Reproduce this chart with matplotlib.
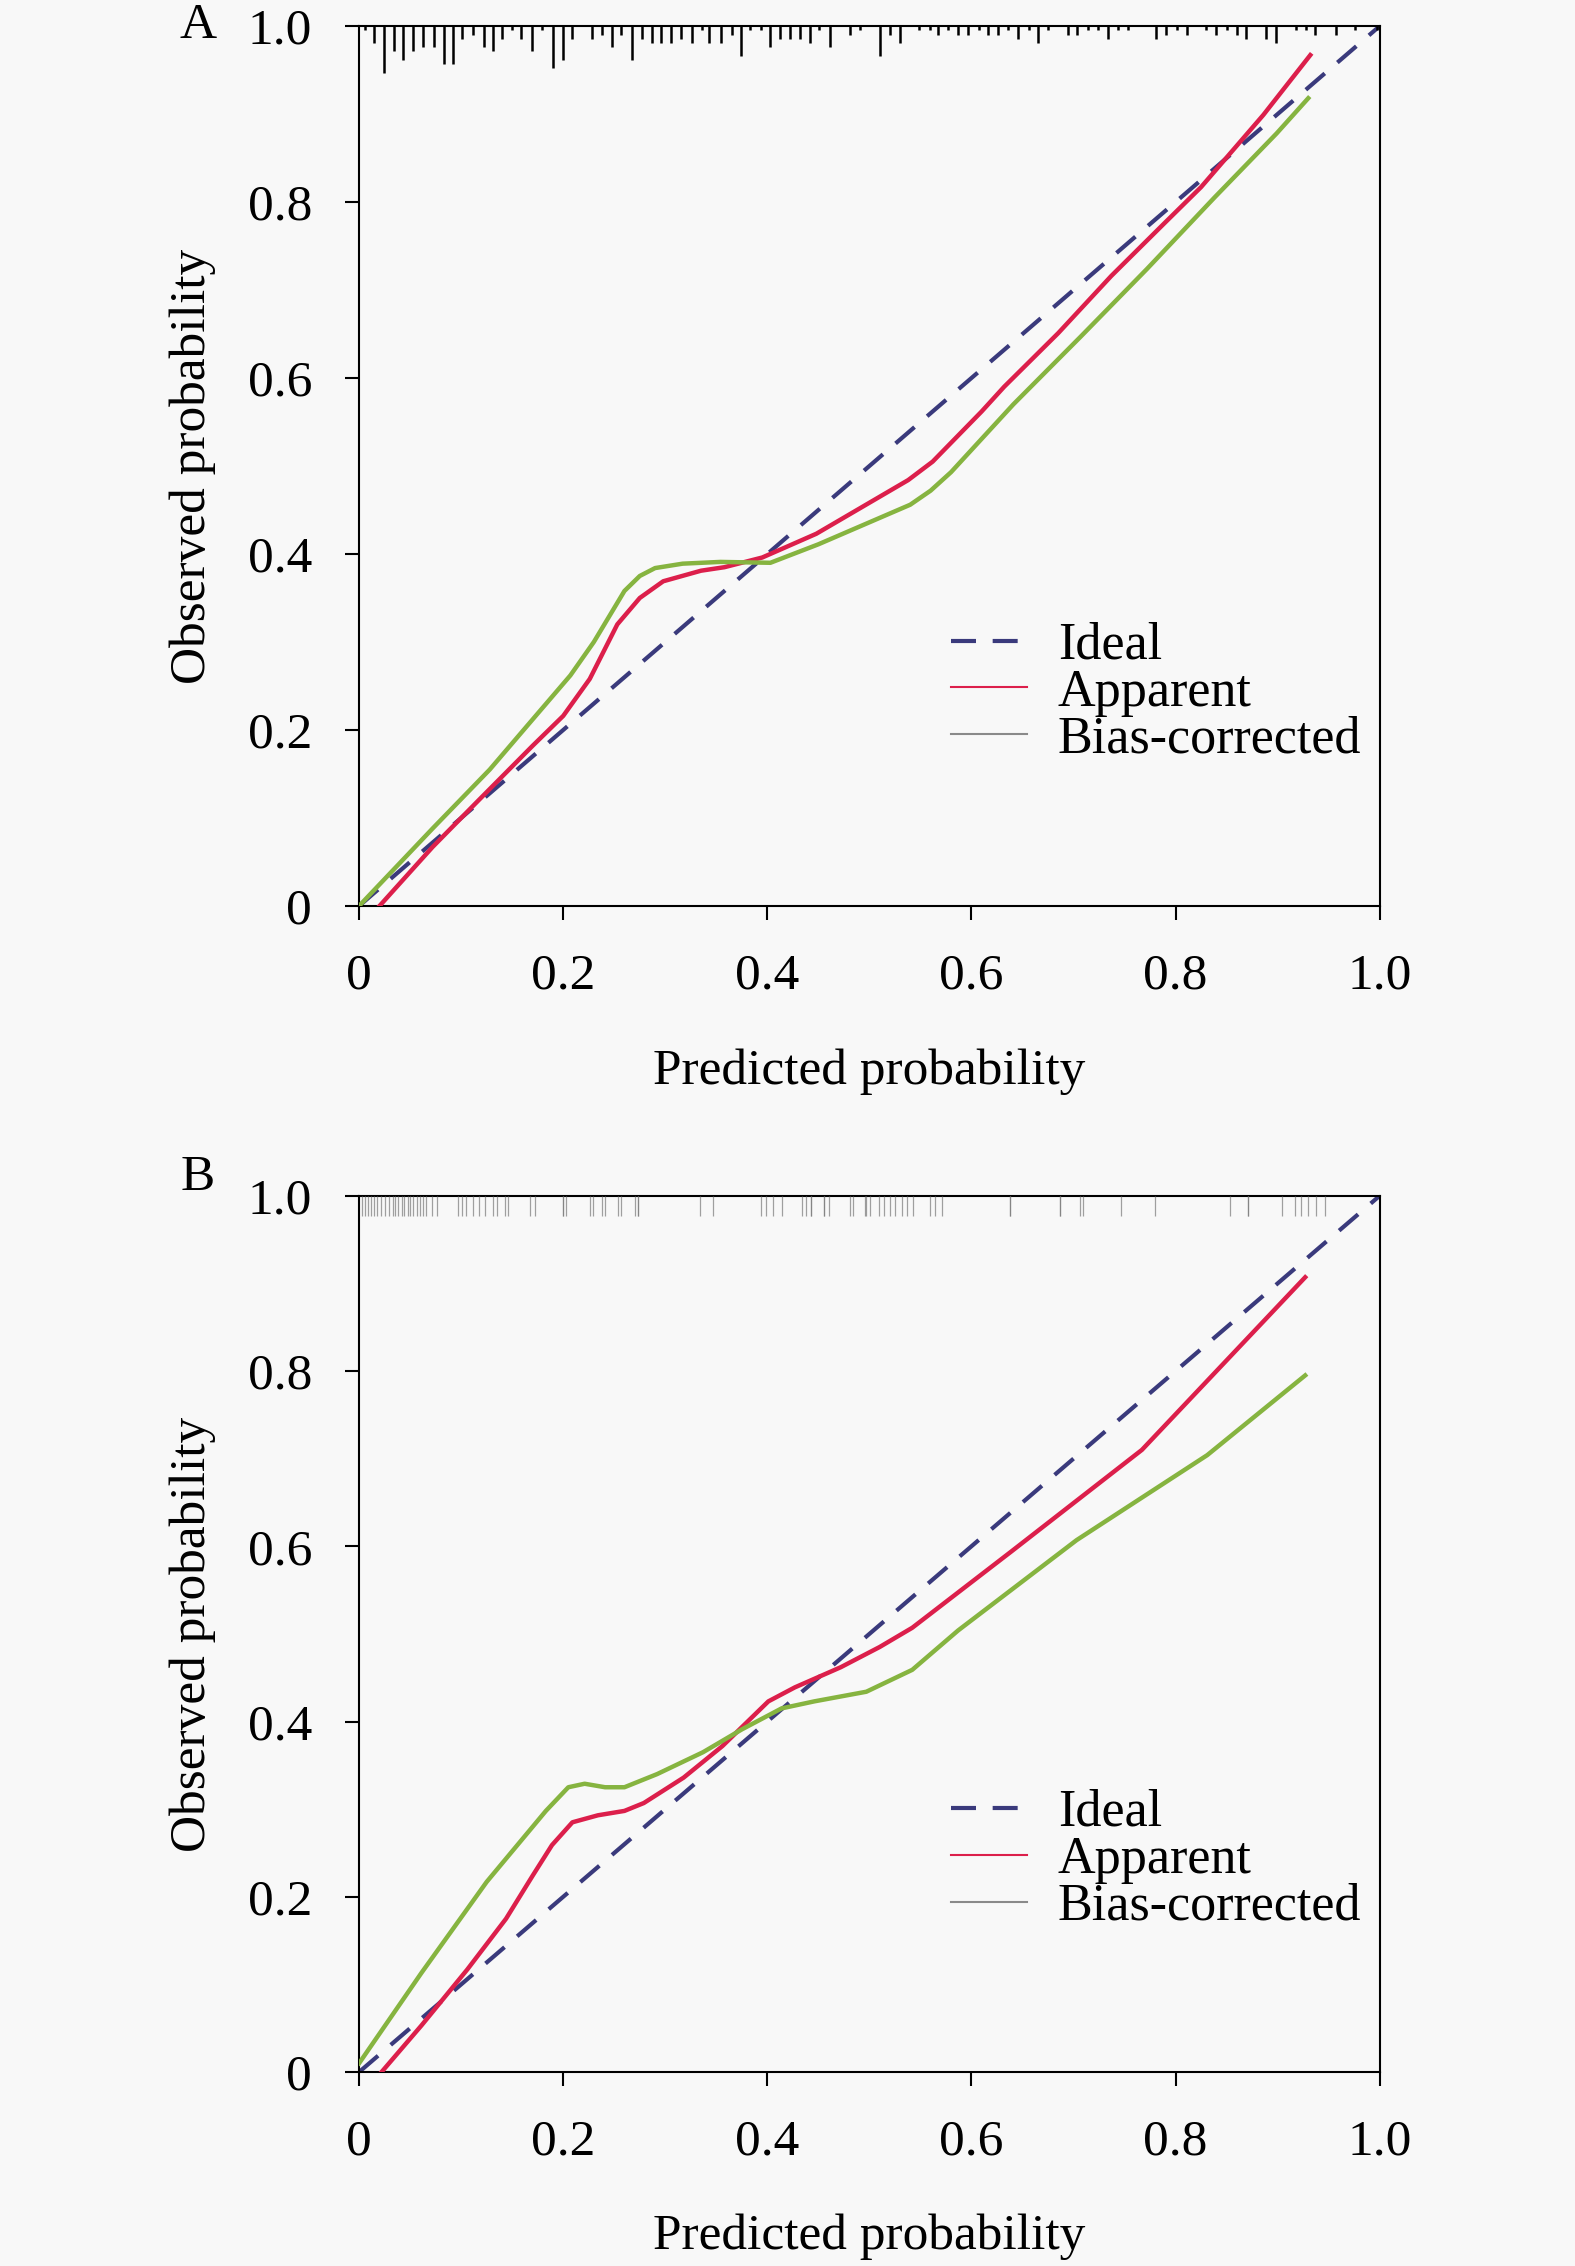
import matplotlib
matplotlib.use("Agg")
import matplotlib.pyplot as plt
from matplotlib.lines import Line2D

plt.rcParams['font.family'] = ['Liberation Serif', 'DejaVu Serif']

# ---- panel A data ----
a_app_x = [0.02, 0.072, 0.117, 0.170, 0.200, 0.226, 0.253, 0.275, 0.298, 0.335, 0.358, 0.395,
           0.448, 0.538, 0.562, 0.610, 0.632, 0.685, 0.737, 0.790, 0.825, 0.886, 0.932]
a_app_y = [0.0, 0.067, 0.120, 0.182, 0.216, 0.258, 0.320, 0.350, 0.369, 0.381, 0.385, 0.396,
           0.423, 0.484, 0.505, 0.562, 0.590, 0.651, 0.716, 0.777, 0.817, 0.899, 0.967]
a_bc_x = [0.0, 0.072, 0.128, 0.173, 0.207, 0.230, 0.260, 0.275, 0.290, 0.317, 0.354, 0.403, 0.450,
          0.540, 0.560, 0.580, 0.641, 0.707, 0.772, 0.838, 0.899, 0.930]
a_bc_y = [0.0, 0.088, 0.155, 0.216, 0.262, 0.300, 0.358, 0.375, 0.384, 0.389, 0.391, 0.390, 0.411,
          0.456, 0.472, 0.493, 0.570, 0.647, 0.724, 0.805, 0.878, 0.918]

# rug of predicted probabilities (position, frequency)
a_rug_x = [0.006, 0.015, 0.024, 0.034, 0.043, 0.053, 0.063, 0.073, 0.083, 0.092, 0.101, 0.112,
           0.122, 0.131, 0.140, 0.150, 0.159, 0.169, 0.179, 0.190, 0.200, 0.209, 0.228, 0.238,
           0.248, 0.257, 0.267, 0.277, 0.287, 0.296, 0.306, 0.315, 0.326, 0.336, 0.343, 0.355,
           0.365, 0.374, 0.383, 0.394, 0.403, 0.412, 0.422, 0.432, 0.442, 0.451, 0.461, 0.481,
           0.491, 0.510, 0.520, 0.530, 0.549, 0.559, 0.567, 0.577, 0.587, 0.597, 0.607, 0.616,
           0.626, 0.636, 0.646, 0.656, 0.665, 0.675, 0.695, 0.703, 0.714, 0.724, 0.734, 0.744,
           0.753, 0.781, 0.791, 0.801, 0.811, 0.830, 0.840, 0.850, 0.860, 0.869, 0.889, 0.898,
           0.918, 0.928, 0.937, 0.957, 0.976, 0.997]
a_rug_n = [1, 4, 11, 6, 8, 6, 5, 5, 9, 9, 3, 2,
           5, 6, 3, 1, 3, 6, 1, 10, 8, 3, 3, 2,
           5, 2, 8, 3, 4, 4, 4, 3, 4, 1, 4, 4,
           2, 7, 1, 1, 5, 3, 3, 3, 4, 1, 5, 2,
           1, 7, 2, 4, 1, 1, 2, 1, 2, 2, 1, 2,
           2, 1, 3, 1, 4, 1, 2, 2, 1, 1, 3, 1,
           1, 3, 2, 1, 2, 1, 2, 1, 2, 3, 3, 4,
           1, 1, 2, 2, 1, 1]

# ---- panel B data ----
b_app_x = [0.022, 0.061, 0.106, 0.144, 0.170, 0.189, 0.209, 0.234, 0.260, 0.279, 0.318, 0.356,
           0.401, 0.427, 0.472, 0.510, 0.542, 0.639, 0.767, 0.927]
b_app_y = [0.0, 0.053, 0.117, 0.175, 0.224, 0.259, 0.285, 0.293, 0.298, 0.307, 0.336, 0.372,
           0.423, 0.439, 0.462, 0.485, 0.507, 0.594, 0.710, 0.907]
b_bc_x = [0.0, 0.061, 0.125, 0.183, 0.205, 0.221, 0.241, 0.260, 0.292, 0.337, 0.375, 0.414,
          0.446, 0.497, 0.542, 0.587, 0.703, 0.831, 0.927]
b_bc_y = [0.01, 0.113, 0.217, 0.298, 0.325, 0.329, 0.325, 0.325, 0.340, 0.365, 0.391, 0.415,
          0.423, 0.434, 0.459, 0.504, 0.607, 0.704, 0.795]

b_rug_x = [0.003, 0.006, 0.0085, 0.012, 0.015, 0.018, 0.0215, 0.025, 0.029, 0.033, 0.035, 0.0385,
           0.042, 0.044, 0.048, 0.050, 0.053, 0.0565, 0.060, 0.063, 0.066, 0.071, 0.076, 0.097,
           0.101, 0.105, 0.112, 0.1175, 0.123, 0.1315, 0.135, 0.143, 0.146, 0.1675, 0.172, 0.200,
           0.200, 0.203, 0.226, 0.229, 0.238, 0.241, 0.254, 0.257, 0.270, 0.2735, 0.2735, 0.334,
           0.347, 0.394, 0.399, 0.406, 0.414, 0.434, 0.438, 0.443, 0.443, 0.456, 0.456, 0.460,
           0.481, 0.484, 0.496, 0.497, 0.5005, 0.509, 0.514, 0.520, 0.525, 0.5315, 0.5365, 0.543,
           0.559, 0.564, 0.571, 0.638, 0.638, 0.687, 0.687, 0.706, 0.709, 0.747, 0.780, 0.853,
           0.871, 0.871, 0.904, 0.917, 0.923, 0.930, 0.938, 0.946]

ticks = [0, 0.2, 0.4, 0.6, 0.8, 1.0]
tick_labels = ['0', '0.2', '0.4', '0.6', '0.8', '1.0']

col_ideal = '#3a3a7c'
col_app = '#dc1f4b'
col_bc = '#86b440'
col_bc_leg = '#8a8a8a'
bg = '#f8f8f8'

fig = plt.figure(figsize=(15.75, 22.66), dpi=100, facecolor=bg)
ax_a = fig.add_axes([0.228, 0.6002, 0.648, 0.3883])
ax_b = fig.add_axes([0.228, 0.0856, 0.648, 0.3867])


def draw_panel(ax, app_x, app_y, bc_x, bc_y):
    ax.set_facecolor(bg)
    ax.plot([0, 1], [0, 1], color=col_ideal, lw=3, dashes=(6, 4), zorder=2)
    ax.plot(app_x, app_y, color=col_app, lw=3.2, zorder=3)
    ax.plot(bc_x, bc_y, color=col_bc, lw=3.2, zorder=4)
    ax.set_xlim(0, 1)
    ax.set_ylim(0, 1)
    ax.set_xticks(ticks)
    ax.set_xticklabels(tick_labels)
    ax.set_yticks(ticks)
    ax.set_yticklabels(tick_labels)
    ax.tick_params(direction='out', length=10, width=1.5, labelsize=37, pad=24)
    for s in ax.spines.values():
        s.set_linewidth(1.5)
    ax.set_xlabel('Predicted probability', fontsize=37)
    ax.set_ylabel('Observed probability', fontsize=37)
    ax.xaxis.set_label_coords(0.5, -0.162)
    ax.yaxis.set_label_coords(-0.14, 0.5)
    handles = [Line2D([], [], color=col_ideal, lw=3, dashes=(6, 4)),
               Line2D([], [], color=col_app, lw=1.5),
               Line2D([], [], color=col_bc_leg, lw=1.5)]
    ax.legend(handles, ['Ideal', 'Apparent', 'Bias-corrected'], loc='upper left',
              bbox_to_anchor=(0.58, 0.323), frameon=False, fontsize=37.5,
              borderaxespad=0, borderpad=0, handlelength=1.45, handletextpad=0.6,
              labelspacing=-0.02)


draw_panel(ax_a, a_app_x, a_app_y, a_bc_x, a_bc_y)
draw_panel(ax_b, b_app_x, b_app_y, b_bc_x, b_bc_y)

# frequency rug along the top of A
for x, n in zip(a_rug_x, a_rug_n):
    ax_a.plot([x, x], [1.0, 1.0 - 0.0048 * n], color='black', lw=1.8,
              solid_capstyle='butt', zorder=5, clip_on=False)

# rug along the top of B
for x in b_rug_x:
    ax_b.plot([x, x], [1.0, 0.977], color='#7a7a7a', lw=0.9, alpha=0.7,
              solid_capstyle='butt', zorder=5)

fig.text(198 / 1575, 1 - 26 / 2266, 'A', fontsize=37, ha='center', va='center')
fig.text(198 / 1575, 1 - 1178 / 2266, 'B', fontsize=37, ha='center', va='center')

fig.savefig('out.png', dpi=100, facecolor=bg)
